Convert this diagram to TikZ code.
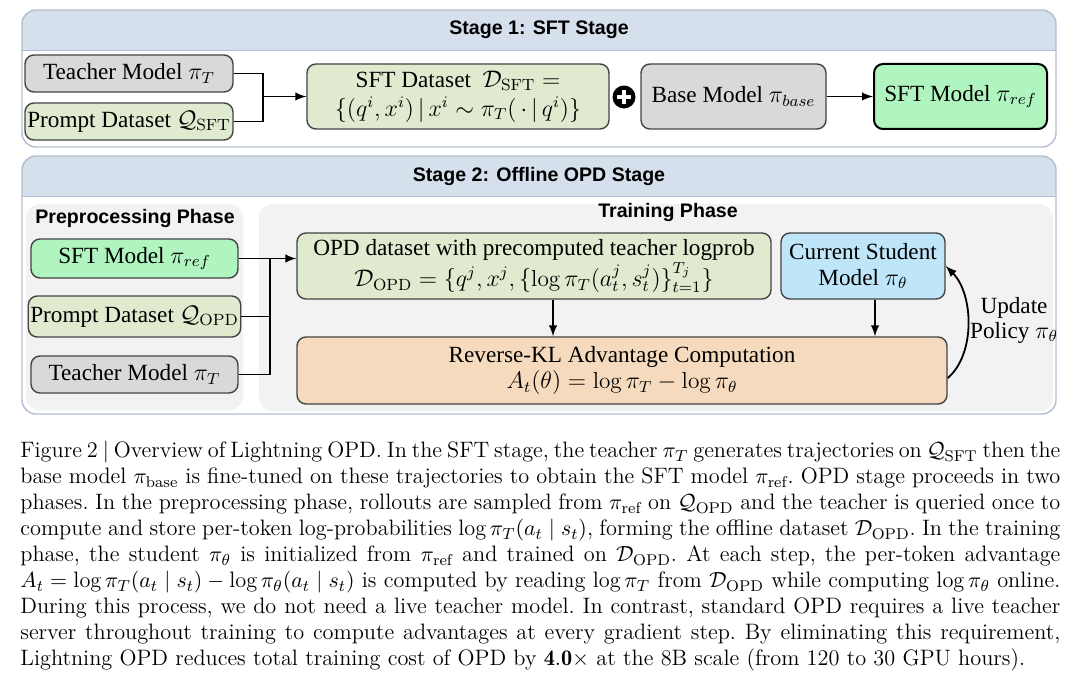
\documentclass[tikz,border=0pt]{standalone}
\usepackage{fontspec}
\usepackage{amsmath}
\newfontfamily\tms{Liberation Serif}
\newfontfamily\hlv{Liberation Sans}
\definecolor{hdrblue}{HTML}{D6DFEC}
\definecolor{panelline}{HTML}{B3BFD0}
\definecolor{phasegray}{HTML}{F2F2F2}
\definecolor{boxgray}{HTML}{D9D9D9}
\definecolor{boxgreen}{HTML}{DFEACF}
\definecolor{boxmint}{HTML}{B0F4C0}
\definecolor{boxblue}{HTML}{BEE6F8}
\definecolor{boxpeach}{HTML}{F6DABE}
\definecolor{edge}{HTML}{444444}

\begin{document}
\begin{tikzpicture}[x=0.5pt, y=-0.5pt, >=latex,
    box/.style={draw=edge, line width=0.7pt, rounded corners=4.5pt, inner sep=1pt,
        align=center, font=\tms\fontsize{11.6}{13}\selectfont},
    title/.style={font=\hlv\bfseries\fontsize{9.8}{12}\selectfont},
    link/.style={line width=0.9pt},
    arr/.style={->, line width=0.9pt}]
    \useasboundingbox (0,0) rectangle (1080,689);

    % Stage 1 panel with its header band
    \begin{scope}
        \clip[rounded corners=7pt] (22,10) rectangle (1056,147);
        \fill[white] (22,10) rectangle (1056,147);
        \fill[hdrblue] (22,10) rectangle (1056,50);
    \end{scope}
    \draw[panelline, line width=0.4pt] (22,50) -- (1056,50);
    \draw[panelline, line width=0.7pt, rounded corners=7pt] (22,10) rectangle (1056,147);
    \node[title] (st1) at (539,30) {Stage 1: SFT Stage};

    \node[box, fill=boxgray, minimum width=104pt, minimum height=18.5pt] (teach1) at (129,73.5) {Teacher Model $\pi_T$};
    \node[box, fill=boxgreen, minimum width=104pt, minimum height=18.5pt] (prompt1) at (129,121.5) {Prompt Dataset $\mathcal{Q}_{\mathrm{SFT}}$};
    \node[box, fill=boxgreen, minimum width=151pt, minimum height=32.5pt] (sftdata) at (458,96.5)
        {SFT Dataset\ \ $\mathcal{D}_{\mathrm{SFT}} =$\\[1.5pt]$\{(q^i,x^i)\,|\,x^i\sim\pi_T(\,\cdot\,|\,q^i)\}$};
    \node[circle, fill=black, minimum size=11.5pt, inner sep=0pt] (plus) at (624,97) {};
    \draw[white, line width=1.7pt] ([xshift=-3.6pt]plus.center) -- ([xshift=3.6pt]plus.center);
    \draw[white, line width=1.7pt] ([yshift=-3.6pt]plus.center) -- ([yshift=3.6pt]plus.center);
    \node[box, fill=boxgray, minimum width=92.5pt, minimum height=32.5pt] (base) at (733.5,96.5) {Base Model $\pi_{base}$};
    \node[box, fill=boxmint, line width=1pt, draw=black, minimum width=86.5pt, minimum height=32.5pt] (sftmodel) at (960.5,96.5) {SFT Model $\pi_{ref}$};

    \coordinate (j1) at (263,96.5);
    \draw[link] (teach1.east) -| (j1);
    \draw[link] (prompt1.east) -| (j1);
    \draw[arr] (j1) -- (sftdata.west);
    \draw[arr] (base.east) -- (sftmodel.west);

    % Stage 2 panel
    \begin{scope}
        \clip[rounded corners=7pt] (22,156) rectangle (1056,414);
        \fill[white] (22,156) rectangle (1056,414);
        \fill[hdrblue] (22,156) rectangle (1056,196);
    \end{scope}
    \draw[panelline, line width=0.4pt] (22,196) -- (1056,196);
    \draw[panelline, line width=0.7pt, rounded corners=7pt] (22,156) rectangle (1056,414);
    \node[title] (st2) at (539,176) {Stage 2: Offline OPD Stage};

    \fill[phasegray, rounded corners=7pt] (26,204) rectangle (243,410);
    \fill[phasegray, rounded corners=7pt] (259,204) rectangle (1053,411);
    \node[title] (pre) at (135,218) {Preprocessing Phase};
    \node[title] (trn) at (668,212) {Training Phase};

    \node[box, fill=boxmint, minimum width=103.5pt, minimum height=19.5pt] (sft2) at (134.5,258.5) {SFT Model $\pi_{ref}$};
    \node[box, fill=boxgreen, minimum width=103.5pt, minimum height=20.5pt] (prompt2) at (134.5,316.5) {Prompt Dataset $\mathcal{Q}_{\mathrm{OPD}}$};
    \node[box, fill=boxgray, minimum width=103.5pt, minimum height=18.5pt] (teach2) at (134.5,374.5) {Teacher Model $\pi_T$};

    \node[box, fill=boxgreen, minimum width=237pt, minimum height=33pt] (opd) at (534,266)
        {OPD dataset with precomputed teacher logprob\\[0pt]
         $\mathcal{D}_{\mathrm{OPD}}=\{q^j,x^j,\{\log\pi_T(a_t^j,s_t^j)\}_{t=1}^{T_j}\}$};
    \node[box, fill=boxblue, minimum width=82pt, minimum height=33pt] (student) at (863,266) {Current Student\\Model $\pi_\theta$};
    \node[box, fill=boxpeach, minimum width=325pt, minimum height=33.5pt] (rkl) at (622,370.5)
        {Reverse-KL Advantage Computation\\$A_t(\theta)=\log\pi_T-\log\pi_\theta$};

    \coordinate (j2) at (270,258.5);
    \draw[link] (prompt2.east) -| (j2);
    \draw[link] (teach2.east) -| (j2);
    \draw[arr] (sft2.east) -- (sft2.east -| opd.west);
    \draw[arr] ([xshift=9.5pt]opd.south) -- ([xshift=9.5pt]opd.south |- rkl.north);
    \draw[arr] ([xshift=6pt]student.south) -- ([xshift=6pt]student.south |- rkl.north);

    % policy update loop
    \draw[arr] ([yshift=-3.8pt]rkl.east) .. controls +(14pt,12pt) and +(14pt,-14pt) .. (student.east);
    \node[font=\tms\fontsize{11.6}{12.5}\selectfont, align=center] (upd) at (1014,320) {Update\\Policy $\pi_\theta$};

    % caption
    \node[anchor=north west, inner sep=0pt, text width=520pt, align=justify,
          font=\fontsize{11.15}{13}\selectfont] (cap) at (20,441) {\noindent\frenchspacing
    Figure 2 $|$ Overview of Lightning OPD. In the SFT stage, the teacher $\pi_T$ generates trajectories on $\mathcal{Q}_{\mathrm{SFT}}$ then the\linebreak
    base model $\pi_{\mathrm{base}}$ is fine-tuned on these trajectories to obtain the SFT model $\pi_{\mathrm{ref}}$. OPD stage proceeds in two\linebreak
    phases. In the preprocessing phase, rollouts are sampled from $\pi_{\mathrm{ref}}$ on $\mathcal{Q}_{\mathrm{OPD}}$ and the teacher is queried once to\linebreak
    compute and store per-token log-probabilities $\log\pi_T(a_t\mid s_t)$, forming the offline dataset $\mathcal{D}_{\mathrm{OPD}}$. In the training\linebreak
    phase, the student $\pi_\theta$ is initialized from $\pi_{\mathrm{ref}}$ and trained on $\mathcal{D}_{\mathrm{OPD}}$. At each step, the per-token advantage\linebreak
    $A_t=\log\pi_T(a_t\mid s_t)-\log\pi_\theta(a_t\mid s_t)$ is computed by reading $\log\pi_T$ from $\mathcal{D}_{\mathrm{OPD}}$ while computing $\log\pi_\theta$ online.\linebreak
    During this process, we do not need a live teacher model. In contrast, standard OPD requires a live teacher\linebreak
    server throughout training to compute advantages at every gradient step. By eliminating this requirement,\linebreak
    Lightning OPD reduces total training cost of OPD by $\mathbf{4.0}\times$ at the 8B scale (from 120 to 30 GPU hours).};
\end{tikzpicture}
\end{document}
